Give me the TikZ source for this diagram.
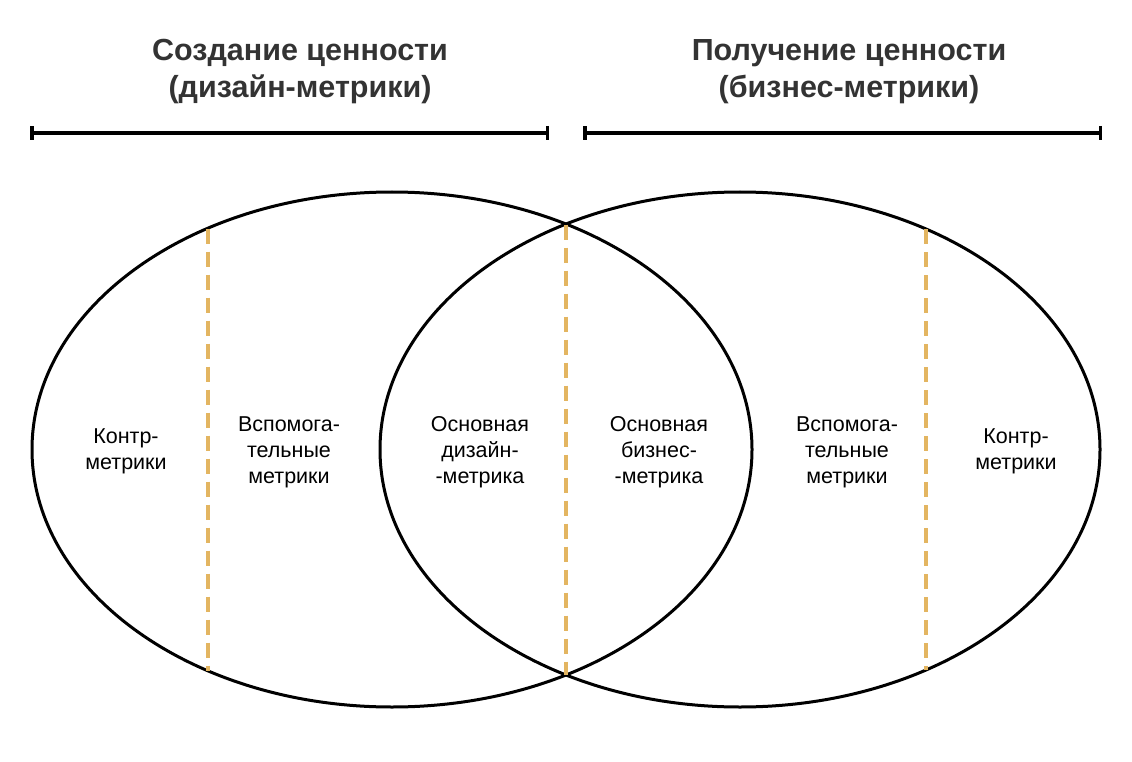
\documentclass[tikz,border=0pt]{standalone}
\usepackage{fontspec}
\setmainfont{Liberation Sans}
\usetikzlibrary{arrows.meta,shapes.geometric}
\definecolor{dashgold}{HTML}{E3B561}
\definecolor{titlegray}{HTML}{333333}

\begin{document}
\begin{tikzpicture}[x=1pt,y=-1pt,
  set node/.style={ellipse,draw,line width=3pt,minimum width=720pt,minimum height=515pt,inner sep=0pt},
  main node/.style={align=center,font=\fontsize{21.5}{26}\selectfont},
  title node/.style={align=center,text=titlegray,font=\bfseries\fontsize{30.5}{37}\selectfont},
  split/.style={dashgold,line width=3.1pt,dash pattern=on 15pt off 8pt},
  span/.style={{Bar[width=14pt]}-{Bar[width=14pt]},line width=3.5pt}]

            \useasboundingbox (0,0) rectangle (1132,762);

            \node[title node] (t1) at (300,71.5) {Создание ценности\\(дизайн-метрики)};
            \node[title node] (t2) at (849,71.5) {Получение ценности\\(бизнес-метрики)};

            \coordinate (b1) at (30,133);
            \coordinate (b2) at (549,133);
            \coordinate (b3) at (583,133);
            \coordinate (b4) at (1102,133);
            \draw[span] (b1) -- (b2);
            \draw[span] (b3) -- (b4);

            \node[set node] (design) at (392,449.5) {};
            \node[set node] (business) at (740,449.5) {};

            \coordinate (a1) at (208,228.5);
            \coordinate (a2) at (208,670.5);
            \coordinate (x1) at (566,224.5);
            \coordinate (x2) at (566,674.5);
            \coordinate (c1) at (926,229);
            \coordinate (c2) at (926,670);
            \draw[split] (a1) -- (a2);
            \draw[split] (x1) -- (x2);
            \draw[split] (c1) -- (c2);

            \node[main node] (1) at (126,451) {Контр-\\метрики};
            \node[main node] (2) at (289,452) {Вспомога-\\тельные\\метрики};
            \node[main node] (3) at (480,452) {Основная\\дизайн-\\-метрика};
            \node[main node] (4) at (659,452) {Основная\\бизнес-\\-метрика};
            \node[main node] (5) at (847,452) {Вспомога-\\тельные\\метрики};
            \node[main node] (6) at (1016,451) {Контр-\\метрики};
        \end{tikzpicture}
\end{document}
